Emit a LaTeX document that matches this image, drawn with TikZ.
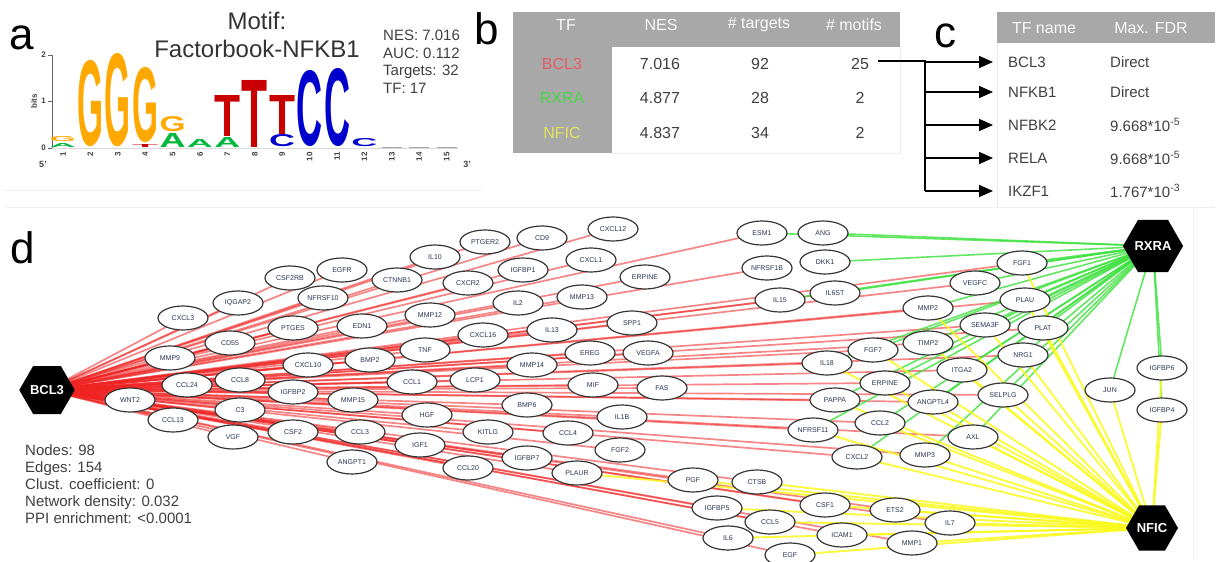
\documentclass[tikz,border=0pt]{standalone}
\usepackage{fontspec}
\setmainfont{Liberation Sans}
\usepackage{graphicx}
\usetikzlibrary{shapes.geometric,arrows.meta}

\definecolor{tblgray}{RGB}{168,168,168}
\definecolor{txtgray}{RGB}{64,64,64}
\definecolor{logoG}{RGB}{255,168,0}
\definecolor{logoA}{RGB}{0,185,60}
\definecolor{logoT}{RGB}{200,0,0}
\definecolor{logoC}{RGB}{0,0,205}
\definecolor{edgeR}{RGB}{240,35,35}
\definecolor{edgeG}{RGB}{60,225,60}
\definecolor{edgeY}{RGB}{250,250,30}
\definecolor{genetxt}{RGB}{40,55,85}
\definecolor{geneline}{RGB}{55,55,55}
\definecolor{tfred}{RGB}{232,90,100}
\definecolor{tfgreen}{RGB}{70,215,70}
\definecolor{tfyellow}{RGB}{228,228,95}

\pgfdeclarelayer{bg}
\pgfdeclarelayer{edges}
\pgfsetlayers{bg,edges,main}

% one stretched letter of the sequence logo: x, bottom, height, letter, colour
\newcommand\logoch[5]{%
  \node[anchor=south,inner sep=0pt,outer sep=0pt,text=#5] at (#1,#2)
    {\resizebox{26pt}{#3pt}{\textbf{#4}}};}

\begin{document}
\begin{tikzpicture}[x=1pt,y=-1pt,
  panel/.style={font=\fontsize{44}{48}\selectfont, anchor=base, inner sep=0pt},
  gene/.style={ellipse, draw=geneline, line width=1.2pt, fill=white,
    minimum width=50pt, minimum height=24pt, inner sep=0pt,
    font=\fontsize{7}{8}\selectfont, text=genetxt},
  hub/.style={regular polygon, regular polygon sides=6, fill=black,
    minimum size=52pt, inner sep=0pt,
    font=\fontsize{13}{14}\selectfont\bfseries, text=white},
  redge/.style={draw=edgeR, line width=1.7pt, draw opacity=0.55},
  gedge/.style={draw=edgeG, line width=1.6pt, draw opacity=0.8},
  yedge/.style={draw=edgeY, line width=1.9pt, draw opacity=0.85},
  stat/.style={font=\fontsize{15}{17}\selectfont, text=txtgray, anchor=base west, inner sep=0pt},
  thead/.style={font=\fontsize{16}{18}\selectfont, text=white!95!gray, inner sep=0pt},
  tcell/.style={font=\fontsize{16}{18}\selectfont, text=txtgray, inner sep=0pt},
  ccell/.style={font=\fontsize{15}{17}\selectfont, text=txtgray, inner sep=0pt, anchor=west},
  arr/.style={line width=1.5pt, -{Triangle[length=14pt,width=12pt]}},
  tick/.style={font=\fontsize{8}{9}\selectfont\bfseries, text=black!75, inner sep=0pt}
]
\useasboundingbox (0,0) rectangle (1219,562);
\begin{pgfonlayer}{bg}
\fill[white] (0,0) rectangle (1219,562);
\end{pgfonlayer}

% ---------------- panel a : sequence logo ----------------
\draw[gray!12, line width=0.8pt] (3,190) -- (482,190);
\node[panel] (la) at (22,49) {a};
\node[font=\fontsize{24}{26}\selectfont, text=black!80, anchor=base, inner sep=0pt] (mt1) at (257,29) {Motif:};
\node[font=\fontsize{24}{26}\selectfont, text=black!80, anchor=base, inner sep=0pt] (mt2) at (257,57) {Factorbook-NFKB1};
\node[stat] (s1) at (383,40) {NES: 7.016};
\node[stat] (s2) at (383,58) {AUC: 0.112};
\node[stat] (s3) at (383,75) {Targets: 32};
\node[stat] (s4) at (383,93) {TF: 17};

% axis
\draw[black!60, line width=0.8pt] (52,55) -- (52,148);
\foreach \yy/\lab in {55/2,101/1,148/0} {
  \draw[black!60, line width=0.8pt] (48,\yy) -- (52,\yy);
  \node[tick, anchor=east] (tk\lab) at (46,\yy) {\lab};
}
\node[tick, rotate=90] (bits) at (34,101) {bits};
\draw[black!15, line width=0.6pt] (52,148) -- (458,148);
\node[tick, font=\fontsize{9}{10}\selectfont\bfseries] (five) at (43,164) {5'};
\node[tick, font=\fontsize{9}{10}\selectfont\bfseries] (three) at (467,164) {3'};
\foreach \i in {1,...,15} {
  \pgfmathsetmacro\px{63+(\i-1)*27.4}
  \node[tick, rotate=90, anchor=east] (pos\i) at (\px,152) {\i};
}
% letter stacks (bottom letter first)
\logoch{63}{147}{4}{A}{logoA}
\logoch{63}{142}{5}{G}{logoG}
\logoch{90.4}{147}{85}{G}{logoG}
\logoch{117.8}{147}{92}{G}{logoG}
\logoch{145.2}{147}{3}{T}{logoT}
\logoch{145.2}{142.5}{74}{G}{logoG}
\logoch{172.6}{147}{14}{A}{logoA}
\logoch{172.6}{132}{15}{G}{logoG}
\logoch{200}{147}{8}{A}{logoA}
\logoch{227.4}{147}{10}{A}{logoA}
\logoch{227.4}{136}{41}{T}{logoT}
\logoch{254.8}{147}{67}{T}{logoT}
\logoch{282.2}{147}{12}{C}{logoC}
\logoch{282.2}{134}{39}{T}{logoT}
\logoch{309.6}{147}{75}{C}{logoC}
\logoch{337}{147}{77}{C}{logoC}
\logoch{364.4}{147}{8}{C}{logoC}
\foreach \i in {13,14,15} {
  \pgfmathsetmacro\px{63+(\i-1)*27.4}
  \draw[black!35, line width=0.8pt] (\px-10,147) -- (\px+10,147);
}

% ---------------- panel b : enrichment table ----------------
\node[panel] (lb) at (487,45) {b};
\fill[tblgray] (513,12) rectangle (900,47);
\fill[tblgray] (513,47) rectangle (612,153);
\draw[gray!15, line width=0.8pt] (612,153) -- (900,153) -- (900,47);
\node[thead] (hTF) at (566,25) {TF};
\node[thead] (hNES) at (661,25) {NES};
\node[thead] (hTg) at (759,25) {\# targets};
\node[thead] (hMo) at (854,25) {\# motifs};
\node[tcell, text=tfred] (tB) at (562,64) {BCL3};
\node[tcell, text=tfgreen] (tR) at (562,98) {RXRA};
\node[tcell, text=tfyellow] (tN) at (562,133) {NFIC};
\node[tcell] (n1) at (660,64) {7.016};
\node[tcell] (n2) at (660,98) {4.877};
\node[tcell] (n3) at (660,133) {4.837};
\node[tcell] (g1) at (760,64) {92};
\node[tcell] (g2) at (760,98) {28};
\node[tcell] (g3) at (760,133) {34};
\node[tcell] (m1) at (860,64) {25};
\node[tcell] (m2) at (860,98) {2};
\node[tcell] (m3) at (860,133) {2};

% ---------------- panel c : TF list ----------------
\node[panel] (lc) at (945,47) {c};
\fill[tblgray] (997,12) rectangle (1215,43);
\draw[gray!15, line width=0.8pt] (997,43) -- (997,207) -- (1215,207);
\node[thead] (cH1) at (1044,28) {TF name};
\node[thead] (cH2) at (1151,28) {Max. FDR};
\foreach \k/\yy/\tf/\fdr in {1/62/BCL3/Direct, 2/92/NFKB1/Direct,
    3/125/NFBK2/{9.668*10\textsuperscript{-5}}, 4/158/RELA/{9.668*10\textsuperscript{-5}},
    5/191/IKZF1/{1.767*10\textsuperscript{-3}}} {
  \node[ccell] (cT\k) at (1008,\yy) {\tf};
  \node[ccell] (cF\k) at (1110,\yy) {\fdr};
}
% bracket arrow from the BCL3 row to the TF list
\coordinate (brA) at (878,61);
\coordinate (brB) at (925,61);
\coordinate (brC) at (925,191);
\draw[line width=1.5pt] (brA) -- (brB) -- (brC);
\foreach \k in {1,...,5} {
  \draw[arr] (brB |- cT\k.west) -- ([xshift=-15pt]cT\k.west);
}

% ---------------- panel d : network ----------------
\draw[gray!10, line width=0.8pt] (5,207) -- (1193,207) -- (1193,560);
\node[panel] (ld) at (23,263) {d};

\node[hub] (BCL3) at (47,390) {BCL3};
\node[hub] (RXRA) at (1153,246) {RXRA};
\node[hub] (NFIC) at (1152,528) {NFIC};

\foreach \n/\x/\y/\t in {
  CXCL3/183/318/CXCL3, IQGAP2/238/303/IQGAP2, CSF2RB/290/278/CSF2RB,
  EGFR/342/270/EGFR, NFRSFa/323/298/NFRSF10, CTNNB1/397/280/CTNNB1,
  IL10/435/257/IL10, PTGER2/485/242/PTGER2, CD9/542/238/CD9,
  CXCL12/613/229/CXCL12, CXCL1/591/260/CXCL1, IGFBP1/523/270/IGFBP1,
  CXCR2/468/283/CXCR2, SERPINEb/645/277/ERPINE, IL2/518/303/IL2,
  MMP13/582/297/MMP13, MMP12/430/315/MMP12, PTGES/293/328/PTGES,
  EDN1/362/326/EDN1, CD55/230/343/CD55, MMP9/170/358/MMP9,
  CXCL10/308/365/CXCL10, BMP2/370/360/BMP2, TNF/425/350/TNF,
  CXCL16/483/335/CXCL16, IL13/552/330/IL13, SPP1/632/323/SPP1,
  CCL8/240/380/CCL8, CCL24/187/385/CCL24, WNT2/130/400/WNT2,
  IGFBP2/293/392/IGFBP2, MMP15/353/400/MMP15, CCL1/412/382/CCL1,
  LCP1/475/380/LCP1, MMP14/532/365/MMP14, EREG/590/353/EREG,
  VEGFA/648/353/VEGFA, MIF/593/385/MIF, FAS/662/388/FAS,
  C3/240/410/C3, CCL13/173/420/CCL13, VGF/233/437/VGF,
  CSF2/293/432/CSF2, CCL3/360/432/CCL3, ANGPT1/352/462/ANGPT1,
  HGF/427/415/HGF, BMP6/527/405/BMP6, IL1B/622/417/IL1B,
  KITLG/488/432/KITLG, CCL4/568/433/CCL4, IGF1/420/445/IGF1,
  FGF2/620/450/FGF2, IGFBP7/527/458/IGFBP7, CCL20/468/468/CCL20,
  PLAUR/577/473/PLAUR, PGF/693/480/PGF, CTSB/757/482/CTSB,
  IGFBP5/717/508/IGFBP5, CCL5/770/522/CCL5, IL6/728/538/IL6,
  EGF/790/555/EGF, CSF1/825/505/CSF1, ETS2/895/510/ETS2,
  IL7/950/523/IL7, ICAM1/842/535/ICAM1, MMP1/912/543/MMP1,
  ESM1/762/233/ESM1, NFRSFb/767/268/NFRSF1B, IL15/780/300/IL15,
  ANG/823/233/ANG, DKK1/825/262/DKK1, IL6ST/835/293/IL6ST,
  FGF1/1022/263/FGF1, VEGFC/975/283/VEGFC, PLAU/1025/300/PLAU,
  MMP2/928/308/MMP2, SEMA3F/985/325/SEMA3F, PLAT/1043/328/PLAT,
  TIMP2/928/343/TIMP2, FGF7/873/350/FGF7, NRG1/1023/355/NRG1,
  IL18/827/363/IL18, ITGA2/962/370/ITGA2, SERPINEa/885/383/ERPINE,
  SELPLG/1003/395/SELPLG, ANGPTL4/933/402/ANGPTL4, PAPPA/835/400/PAPPA,
  CCL2/880/423/CCL2, NFRSFc/813/430/NFRSF11, AXL/973/437/AXL,
  CXCL2/857/457/CXCL2, MMP3/925/455/MMP3, JUN/1110/390/JUN,
  IGFBP6/1162/368/IGFBP6, IGFBP4/1162/410/IGFBP4} {
  \node[gene] (\n) at (\x,\y) {\t};
}

\begin{pgfonlayer}{edges}
\foreach \t in {CXCL3, IQGAP2, CSF2RB, EGFR, NFRSFa, CTNNB1, IL10, PTGER2,
    CD9, CXCL12, CXCL1, IGFBP1, CXCR2, SERPINEb, IL2, MMP13, MMP12, PTGES,
    EDN1, CD55, MMP9, CXCL10, BMP2, TNF, CXCL16, IL13, SPP1, CCL8, CCL24,
    WNT2, IGFBP2, MMP15, CCL1, LCP1, MMP14, EREG, VEGFA, MIF, FAS, C3, CCL13,
    VGF, CSF2, CCL3, ANGPT1, HGF, BMP6, IL1B, KITLG, CCL4, IGF1, FGF2, IGFBP7,
    CCL20, PLAUR, PGF, CTSB, IGFBP5, CCL5, IL6, EGF, CSF1, ETS2, ICAM1, MMP1,
    ESM1, NFRSFb, IL15, IL6ST, FGF1, VEGFC, PLAU, MMP2, SEMA3F, TIMP2, FGF7,
    IL18, SERPINEa, ANGPTL4, PAPPA, CCL2, NFRSFc, CXCL2, MMP3, PLAT, NRG1,
    ITGA2, SELPLG, AXL, IL7}
  \draw[redge] (BCL3.center) -- (\t.center);
\foreach \t in {ANG, DKK1, IL6ST, FGF1, VEGFC, PLAU, MMP2, SEMA3F, PLAT,
    TIMP2, FGF7, NRG1, IL18, ITGA2, SERPINEa, SELPLG, ANGPTL4, AXL, CXCL2,
    MMP3, JUN, IGFBP6, IGFBP4, IL15, PAPPA, CCL2, NFRSFc, ESM1}
  \draw[gedge] (RXRA.center) -- (\t.center);
\foreach \t in {PLAU, SEMA3F, PLAT, NRG1, ITGA2, SELPLG, ANGPTL4, CCL2, AXL,
    CXCL2, MMP3, JUN, IGFBP6, IGFBP4, PGF, CTSB, IGFBP5, CCL5, IL6, EGF, CSF1,
    ETS2, IL7, ICAM1, MMP1, TIMP2, FGF7, MMP2, IL18, SERPINEa, PAPPA, NFRSFc,
    FGF1, PLAUR}
  \draw[yedge] (NFIC.center) -- (\t.center);
\end{pgfonlayer}

% network statistics
\foreach \k/\yy/\s in {1/455/{Nodes: 98}, 2/472/{Edges: 154}, 3/489/{Clust. coefficient: 0},
    4/506/{Network density: 0.032}, 5/523/{PPI enrichment: <0.0001}} {
  \node[stat] (ns\k) at (25,\yy) {\s};
}
\end{tikzpicture}
\end{document}
